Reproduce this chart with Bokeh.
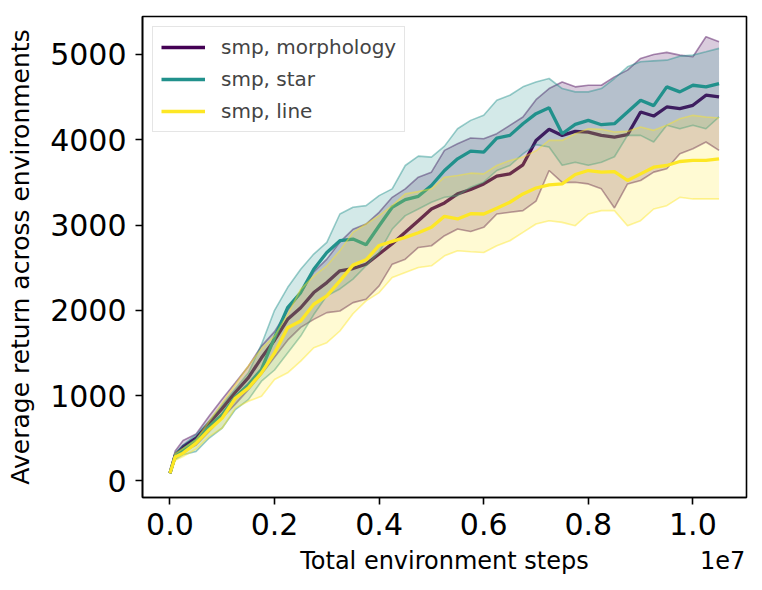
from bokeh.plotting import figure
from bokeh.models import Range1d, FixedTicker, Legend, LegendItem, LinearAxis
from bokeh.embed import file_html
from bokeh.resources import INLINE

# ---- data ----
steps = [0, 100000, 250000, 500000, 750000, 1000000, 1250000, 1500000, 1750000,
         2000000, 2250000, 2500000, 2750000, 3000000, 3250000, 3500000, 3750000,
         4000000, 4250000, 4500000, 4750000, 5000000, 5250000, 5500000, 5750000,
         6000000, 6250000, 6500000, 6750000, 7000000, 7250000, 7500000, 7750000,
         8000000, 8250000, 8500000, 8750000, 9000000, 9250000, 9500000, 9750000,
         10000000, 10250000, 10500000]

morph_mean = [90, 300, 400, 500, 678, 850, 1039, 1210, 1443, 1650, 1894, 2030, 2208,
              2325, 2463, 2490, 2540, 2660, 2780, 2914, 3051, 3188, 3259, 3365, 3416,
              3482, 3573, 3600, 3706, 3990, 4122, 4051, 4098, 4090, 4051, 4031, 4059,
              4325, 4278, 4384, 4365, 4404, 4522, 4502]
morph_upper = [90, 350, 474, 550, 760, 961, 1150, 1345, 1580, 1750, 2000, 2200, 2450,
               2600, 2800, 2950, 3012, 3149, 3325, 3424, 3561, 3620, 3875, 3953, 4020,
               4012, 4071, 4169, 4267, 4470, 4600, 4678, 4620, 4639, 4639, 4737, 4816,
               4953, 5000, 5024, 4992, 4973, 5208, 5149]
morph_lower = [90, 260, 340, 420, 580, 740, 900, 1070, 1250, 1450, 1650, 1800, 1894,
               1973, 1992, 2090, 2129, 2286, 2541, 2600, 2737, 2757, 2875, 2953, 2925,
               2973, 3129, 3149, 3169, 3280, 3639, 3500, 3502, 3482, 3424, 3200, 3482,
               3522, 3620, 3659, 3835, 3894, 3973, 3875]

star_mean = [90, 290, 365, 474, 639, 776, 984, 1129, 1306, 1680, 2031, 2208, 2482,
             2678, 2816, 2835, 2769, 2992, 3208, 3298, 3337, 3463, 3639, 3776, 3867,
             3855, 4020, 4051, 4188, 4306, 4376, 4070, 4180, 4227, 4176, 4188, 4325,
             4463, 4400, 4620, 4561, 4639, 4620, 4659]
star_upper = [90, 330, 420, 541, 700, 894, 1080, 1267, 1600, 2000, 2267, 2482, 2659,
              2796, 3129, 3208, 3227, 3345, 3424, 3698, 3808, 3796, 3925, 4129, 4227,
              4286, 4463, 4522, 4620, 4678, 4718, 4600, 4561, 4561, 4600, 4718, 4855,
              4914, 4925, 4933, 4980, 4992, 5031, 5071]
star_lower = [90, 250, 306, 345, 502, 620, 835, 953, 1169, 1300, 1500, 1698, 1950,
              2169, 2250, 2365, 2522, 2678, 2953, 3110, 3188, 3267, 3325, 3345, 3443,
              3502, 3639, 3698, 3835, 3943, 3914, 3700, 3737, 3700, 3737, 3800, 4051,
              4051, 3973, 4169, 4129, 4169, 4129, 4267]

line_mean = [90, 280, 325, 443, 600, 737, 969, 1090, 1267, 1500, 1796, 1875, 2071,
             2169, 2345, 2530, 2592, 2760, 2808, 2855, 2910, 2973, 3102, 3071, 3133,
             3129, 3196, 3267, 3365, 3434, 3471, 3482, 3592, 3639, 3620, 3627, 3522,
             3600, 3678, 3698, 3745, 3757, 3757, 3776]
line_upper = [90, 320, 380, 482, 700, 914, 1130, 1350, 1550, 1700, 1950, 2247, 2400,
              2522, 2700, 2914, 3012, 3110, 3227, 3365, 3392, 3424, 3561, 3580, 3608,
              3600, 3698, 3757, 3796, 3870, 3992, 3992, 4071, 4129, 4122, 4090, 4098,
              4149, 4110, 4169, 4247, 4286, 4267, 4255]
line_lower = [90, 240, 286, 373, 522, 620, 855, 933, 992, 1188, 1267, 1404, 1561,
              1620, 1757, 1960, 2110, 2208, 2384, 2443, 2502, 2522, 2639, 2698, 2686,
              2678, 2757, 2816, 2914, 3012, 3051, 3031, 2992, 3129, 3169, 3169, 2992,
              3051, 3188, 3227, 3325, 3306, 3306, 3306]

series_names = ["smp, morphology", "smp, star", "smp, line"]
series_colors = ["#440154", "#21918c", "#fde725"]

x_ticks = [0, 2000000, 4000000, 6000000, 8000000, 10000000]
x_tick_labels = ["0.0", "0.2", "0.4", "0.6", "0.8", "1.0"]
y_ticks = [0, 1000, 2000, 3000, 4000, 5000]
x_title = "Total environment steps"
x_offset_text = "1e7"
# positions (data x) where the x title and the offset text sit under the axis
x_title_pos = [5250000, 10570000]
y_title = "Average return across environments"

# ---- figure ----
FONT = "DejaVu Sans"
p = figure(width=754, height=582, output_backend="svg", toolbar_location=None,
           x_range=Range1d(-525000, 11025000), y_range=Range1d(-195, 5445),
           min_border_left=142, min_border_right=8, min_border_top=16,
           min_border_bottom=85)
p.grid.visible = False
p.background_fill_color = "white"
p.border_fill_color = "white"
p.outline_line_color = "black"
p.outline_line_width = 1.6
p.outline_line_alpha = 1.0

series = [
    (morph_mean, morph_upper, morph_lower),
    (star_mean, star_upper, star_lower),
    (line_mean, line_upper, line_lower),
]

items = []
for (mean, up, lo), name, col in zip(series, series_names, series_colors):
    p.varea(x=steps, y1=lo, y2=up, fill_color=col, fill_alpha=0.2)
    p.line(x=steps, y=up, line_color=col, line_alpha=0.45, line_width=1.6)
    p.line(x=steps, y=lo, line_color=col, line_alpha=0.45, line_width=1.6)
    r = p.line(x=steps, y=mean, line_color=col, line_width=3.3)
    items.append(LegendItem(label=name, renderers=[r]))

legend = Legend(items=items, location="top_left")
legend.label_text_font = FONT
legend.label_text_font_size = "20px"
legend.glyph_width = 44
legend.glyph_height = 22
legend.label_height = 22
legend.label_standoff = 16
legend.spacing = 8
legend.padding = 8
legend.margin = 10
legend.border_line_color = "#cccccc"
legend.border_line_width = 1.5
legend.background_fill_alpha = 0.8
p.add_layout(legend)

for ax in (p.xaxis[0], p.yaxis[0]):
    ax.axis_line_color = "black"
    ax.axis_line_width = 1.6
    ax.major_tick_line_color = "black"
    ax.major_tick_line_width = 1.6
    ax.major_tick_out = 7
    ax.major_tick_in = 0
    ax.minor_tick_line_color = None
    ax.major_label_text_font = FONT
    ax.major_label_text_font_size = "30px"
    ax.major_label_text_color = "black"
    ax.axis_label_text_font = FONT
    ax.axis_label_text_font_style = "normal"
    ax.axis_label_text_color = "black"

p.xaxis.ticker = FixedTicker(ticks=x_ticks)
p.xaxis.major_label_overrides = {t: lab for t, lab in zip(x_ticks, x_tick_labels)}
p.xaxis.major_label_standoff = 8

# second, line-less axis below carrying the x title and the "1e7" offset text
title_axis = LinearAxis(ticker=FixedTicker(ticks=x_title_pos),
                        major_label_overrides={x_title_pos[0]: x_title,
                                               x_title_pos[1]: x_offset_text})
title_axis.axis_line_color = None
title_axis.major_tick_line_color = None
title_axis.minor_tick_line_color = None
title_axis.major_tick_out = 0
title_axis.major_tick_in = 0
title_axis.major_label_standoff = 9
title_axis.major_label_text_font = FONT
title_axis.major_label_text_font_size = "24px"
title_axis.major_label_text_color = "black"
p.add_layout(title_axis, "below")

p.yaxis.ticker = FixedTicker(ticks=y_ticks)
p.yaxis.axis_label = y_title
p.yaxis.axis_label_text_font_size = "25px"
p.yaxis.major_label_standoff = 9
p.yaxis.axis_label_standoff = 12

open("out.html", "w").write(file_html(p, INLINE))
